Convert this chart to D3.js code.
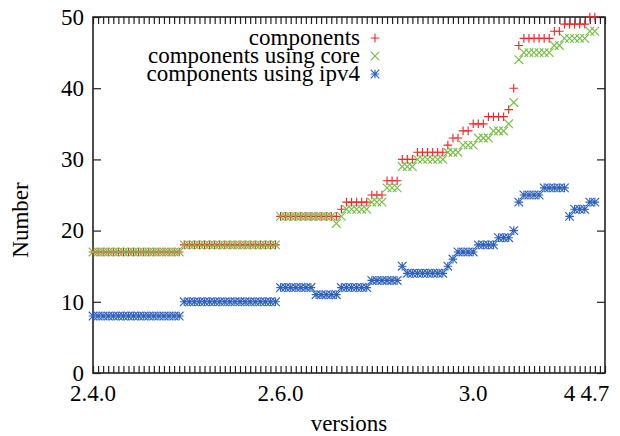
<!DOCTYPE html>
<html>
<head>
<meta charset="utf-8">
<script src="https://cdn.jsdelivr.net/npm/d3@7"></script>
<style>
    body { margin: 0; background: #fff; }
</style>
</head>
<body>
<div id="chart"></div>
<script>
// version index along the x axis (one per release)
var versions = d3.range(100);

var xTickLabels = ['2.4.0', '2.6.0', '3.0', '4', '4.7'];
var xTickPos = [0, 37, 75, 94, 99];

var components = [
    17, 17, 17, 17, 17, 17, 17, 17, 17, 17, 17, 17, 17, 17, 17, 17, 17, 17,
    18, 18, 18, 18, 18, 18, 18, 18, 18, 18, 18, 18, 18, 18, 18, 18, 18, 18, 18,
    22, 22, 22, 22, 22, 22, 22, 22, 22, 22, 22, 22,
    23, 24, 24, 24, 24, 24, 25, 25, 25, 27, 27, 27, 30, 30, 30,
    31, 31, 31, 31, 31, 31, 32, 33, 33, 34, 34, 35, 35, 35, 36, 36, 36, 36,
    37, 40, 46, 47, 47, 47, 47, 47, 47, 48, 48, 49, 49, 49, 49, 49, 50, 50
];
var usingCore = [
    17, 17, 17, 17, 17, 17, 17, 17, 17, 17, 17, 17, 17, 17, 17, 17, 17, 17,
    18, 18, 18, 18, 18, 18, 18, 18, 18, 18, 18, 18, 18, 18, 18, 18, 18, 18, 18,
    22, 22, 22, 22, 22, 22, 22, 22, 22, 22, 22, 21,
    22, 23, 23, 23, 23, 23, 24, 24, 24, 26, 26, 26, 29, 29, 29,
    30, 30, 30, 30, 30, 30, 31, 31, 31, 32, 32, 32, 33, 33, 33, 34, 34, 34,
    35, 38, 44, 45, 45, 45, 45, 45, 45, 46, 46, 47, 47, 47, 47, 47, 48, 48
];
var usingIpv4 = [
    8, 8, 8, 8, 8, 8, 8, 8, 8, 8, 8, 8, 8, 8, 8, 8, 8, 8,
    10, 10, 10, 10, 10, 10, 10, 10, 10, 10, 10, 10, 10, 10, 10, 10, 10, 10, 10,
    12, 12, 12, 12, 12, 12, 12, 11, 11, 11, 11, 11,
    12, 12, 12, 12, 12, 12, 13, 13, 13, 13, 13, 13, 15,
    14, 14, 14, 14, 14, 14, 14, 14, 15, 16, 17, 17, 17, 17, 18, 18, 18, 18,
    19, 19, 19, 20, 24, 25, 25, 25, 25, 26, 26, 26, 26, 26, 22, 23, 23, 23, 24, 24
];

var series = [
    { name: 'components', values: components, color: '#ee2a2a', shape: 'plus' },
    { name: 'components using core', values: usingCore, color: '#74c043', shape: 'cross' },
    { name: 'components using ipv4', values: usingIpv4, color: '#2f62bd', shape: 'star' }
];

var width = 620;
var height = 436;
var margin = { top: 17, right: 15, bottom: 63, left: 93 };
var fontFamily = '"Liberation Serif", "DejaVu Serif", serif';
var fontSize = 23;

var svg = d3.select('#chart')
    .append('svg')
    .attr('width', width)
    .attr('height', height)
    .attr('font-family', fontFamily);

var xScale = d3.scaleLinear()
    .domain([0, 101])
    .range([margin.left, width - margin.right]);
var yScale = d3.scaleLinear()
    .domain([0, 50])
    .range([height - margin.bottom, margin.top]);

// marker shapes, like gnuplot point types 1, 2, 3
function markerPath(shape, s) {
    var plus = 'M' + (-s) + ',0H' + s + 'M0,' + (-s) + 'V' + s;
    var cross = 'M' + (-s) + ',' + (-s) + 'L' + s + ',' + s + 'M' + (-s) + ',' + s + 'L' + s + ',' + (-s);
    if (shape == 'plus') return plus;
    if (shape == 'cross') return cross;
    return plus + cross;
}
var markerSize = { plus: 4.3, cross: 4.3, star: 4.3 };

// minor ticks, one per version, top and bottom
var minorTicks = d3.range(0, 102);
svg.append('g')
    .attr('transform', 'translate(0,' + (height - margin.bottom) + ')')
    .call(d3.axisBottom(xScale).tickValues(minorTicks).tickSize(-7).tickFormat(''))
    .call(function (g) { g.select('.domain').remove(); });
svg.append('g')
    .attr('transform', 'translate(0,' + margin.top + ')')
    .call(d3.axisTop(xScale).tickValues(minorTicks).tickSize(-7).tickFormat(''))
    .call(function (g) { g.select('.domain').remove(); });

// x labels
svg.append('g')
    .selectAll('text')
    .data(xTickPos)
    .enter()
    .append('text')
    .attr('x', function (d) { return xScale(d); })
    .attr('y', height - margin.bottom + 28)
    .attr('text-anchor', 'middle')
    .attr('font-family', fontFamily)
    .attr('font-size', fontSize)
    .text(function (d, i) { return xTickLabels[i]; });

// y axis, left with labels and right mirrored
svg.append('g')
    .attr('transform', 'translate(' + margin.left + ',0)')
    .call(d3.axisLeft(yScale).tickValues(d3.range(0, 51, 10)).tickSize(-8).tickPadding(9))
    .call(function (g) {
        g.select('.domain').remove();
        g.selectAll('text').attr('font-size', fontSize).attr('font-family', fontFamily);
    });
svg.append('g')
    .attr('transform', 'translate(' + (width - margin.right) + ',0)')
    .call(d3.axisRight(yScale).tickValues(d3.range(0, 51, 10)).tickSize(-8).tickFormat(''))
    .call(function (g) { g.select('.domain').remove(); });

svg.selectAll('.tick line').attr('stroke', '#222').attr('stroke-width', 1.2);
svg.selectAll('g').attr('font-family', fontFamily);

// frame
svg.append('rect')
    .attr('x', margin.left)
    .attr('y', margin.top)
    .attr('width', width - margin.left - margin.right)
    .attr('height', height - margin.top - margin.bottom)
    .attr('fill', 'none')
    .attr('stroke', '#222')
    .attr('stroke-width', 1.6);

// points
series.forEach(function (s) {
    svg.append('g')
        .selectAll('path')
        .data(s.values)
        .enter()
        .append('path')
        .attr('d', markerPath(s.shape, markerSize[s.shape]))
        .attr('transform', function (d, i) {
            return 'translate(' + xScale(versions[i]) + ',' + yScale(d) + ')';
        })
        .attr('fill', 'none')
        .attr('stroke', s.color)
        .attr('stroke-width', 1.15);
});

// legend
var legend = svg.append('g');
series.forEach(function (s, i) {
    var y = 38 + i * 18;
    legend.append('text')
        .attr('x', 360)
        .attr('y', y)
        .attr('dy', '0.3em')
        .attr('text-anchor', 'end')
        .attr('font-family', fontFamily)
        .attr('font-size', fontSize)
        .text(s.name);
    legend.append('path')
        .attr('d', markerPath(s.shape, markerSize[s.shape]))
        .attr('transform', 'translate(375,' + y + ')')
        .attr('fill', 'none')
        .attr('stroke', s.color)
        .attr('stroke-width', 1.15);
});

// axis titles
svg.append('text')
    .attr('x', (margin.left + width - margin.right) / 2)
    .attr('y', 431)
    .attr('text-anchor', 'middle')
    .attr('font-family', fontFamily)
    .attr('font-size', fontSize)
    .text('versions');
svg.append('text')
    .attr('transform', 'translate(28,' + 220 + ') rotate(-90)')
    .attr('text-anchor', 'middle')
    .attr('font-family', fontFamily)
    .attr('font-size', fontSize)
    .text('Number');
</script>
</body>
</html>
